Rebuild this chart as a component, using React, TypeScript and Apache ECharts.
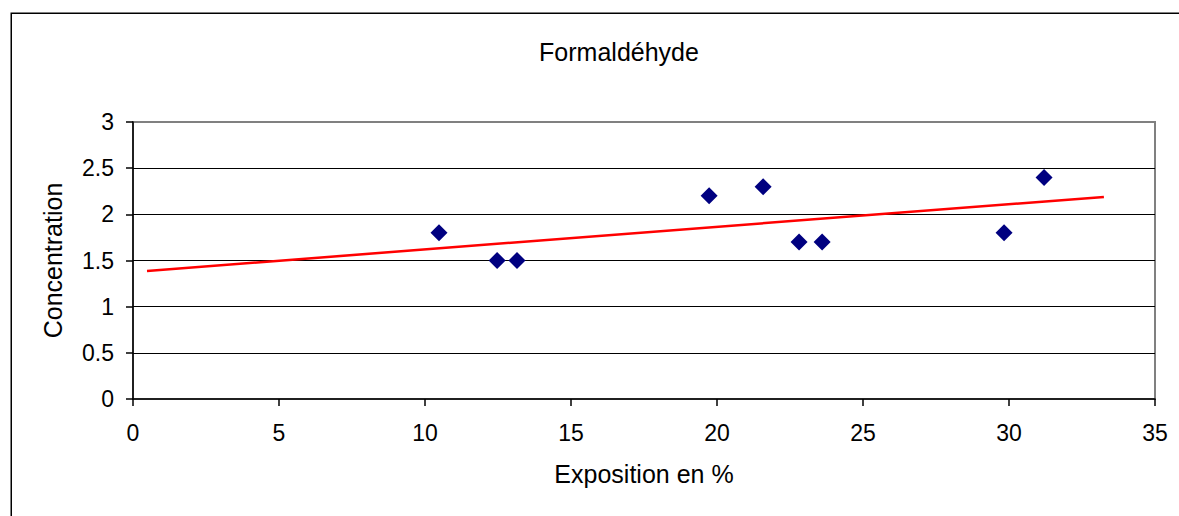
import React, { useEffect, useRef } from "react";
import * as echarts from "echarts";

const exposition = [10.48, 12.47, 13.15, 19.73, 21.58, 22.81, 23.6, 29.83, 31.2];
const concentration = [1.8, 1.5, 1.5, 2.2, 2.3, 1.7, 1.7, 1.8, 2.4];
const trendRange = [0.48, 33.25];
const titleText = "Formaldéhyde";
const xTitle = "Exposition en %";
const yTitle = "Concentration";

function regression(xs: number[], ys: number[]) {
  const n = xs.length;
  const mx = xs.reduce((a, b) => a + b, 0) / n;
  const my = ys.reduce((a, b) => a + b, 0) / n;
  let sxy = 0;
  let sxx = 0;
  for (let i = 0; i < n; i++) {
    sxy += (xs[i] - mx) * (ys[i] - my);
    sxx += (xs[i] - mx) * (xs[i] - mx);
  }
  const slope = sxy / sxx;
  return { slope, intercept: my - slope * mx };
}

const FONT = "'Liberation Sans', Arial, sans-serif";

export default function App() {
  const ref = useRef<HTMLDivElement>(null);
  useEffect(() => {
    document.body.style.margin = "0";
    if (!ref.current) return;
    const chart = echarts.init(ref.current, undefined, { renderer: "svg" });
    const { slope, intercept } = regression(exposition, concentration);
    const trend = trendRange.map((x) => [x, intercept + slope * x]);
    chart.setOption({
      animation: false,
      backgroundColor: "#ffffff",
      textStyle: { fontFamily: FONT },
      grid: {
        left: 133,
        right: 24,
        top: 122,
        bottom: 117,
        show: true,
        borderColor: "#808080",
        borderWidth: 2,
        backgroundColor: "transparent",
      },
      graphic: [
        {
          type: "rect",
          shape: { x: 11.25, y: 13.25, width: 1400, height: 800 },
          style: { fill: "none", stroke: "#000000", lineWidth: 1.5 },
          silent: true,
        },
        {
          type: "text",
          x: 619,
          y: 52,
          style: {
            text: titleText,
            font: `25px ${FONT}`,
            fill: "#000000",
            align: "center",
            verticalAlign: "middle",
          },
        },
      ],
      xAxis: {
        type: "value",
        min: 0,
        max: 35,
        interval: 5,
        name: xTitle,
        nameLocation: "middle",
        nameGap: 62,
        nameTextStyle: { fontSize: 25, color: "#000", fontFamily: FONT },
        axisLine: { show: true, onZero: false, lineStyle: { color: "#000", width: 1.5 } },
        axisTick: { show: true, length: 7, lineStyle: { color: "#000", width: 1.5 } },
        axisLabel: { fontSize: 23, color: "#000", margin: 22, fontFamily: FONT },
        splitLine: { show: false },
      },
      yAxis: {
        type: "value",
        min: 0,
        max: 3,
        interval: 0.5,
        name: yTitle,
        nameLocation: "middle",
        nameRotate: 90,
        nameGap: 68,
        nameTextStyle: { fontSize: 25, color: "#000", fontFamily: FONT },
        axisLine: { show: true, onZero: false, lineStyle: { color: "#000", width: 1.5 } },
        axisTick: { show: true, length: 7, lineStyle: { color: "#000", width: 1.5 } },
        axisLabel: { fontSize: 23, color: "#000", margin: 19, fontFamily: FONT },
        splitLine: {
          show: true,
          showMinLine: false,
          showMaxLine: false,
          lineStyle: { color: "#000", width: 1 },
        },
      },
      series: [
        {
          type: "line",
          data: trend,
          symbol: "none",
          lineStyle: { color: "#ff0000", width: 2.5 },
          z: 2,
        },
        {
          type: "scatter",
          data: exposition.map((x, i) => [x, concentration[i]]),
          symbol: "diamond",
          symbolSize: 17,
          itemStyle: { color: "#000080", opacity: 1 },
          z: 3,
        },
      ],
    });
    return () => chart.dispose();
  }, []);
  return <div ref={ref} style={{ width: 1179, height: 516 }} />;
}
